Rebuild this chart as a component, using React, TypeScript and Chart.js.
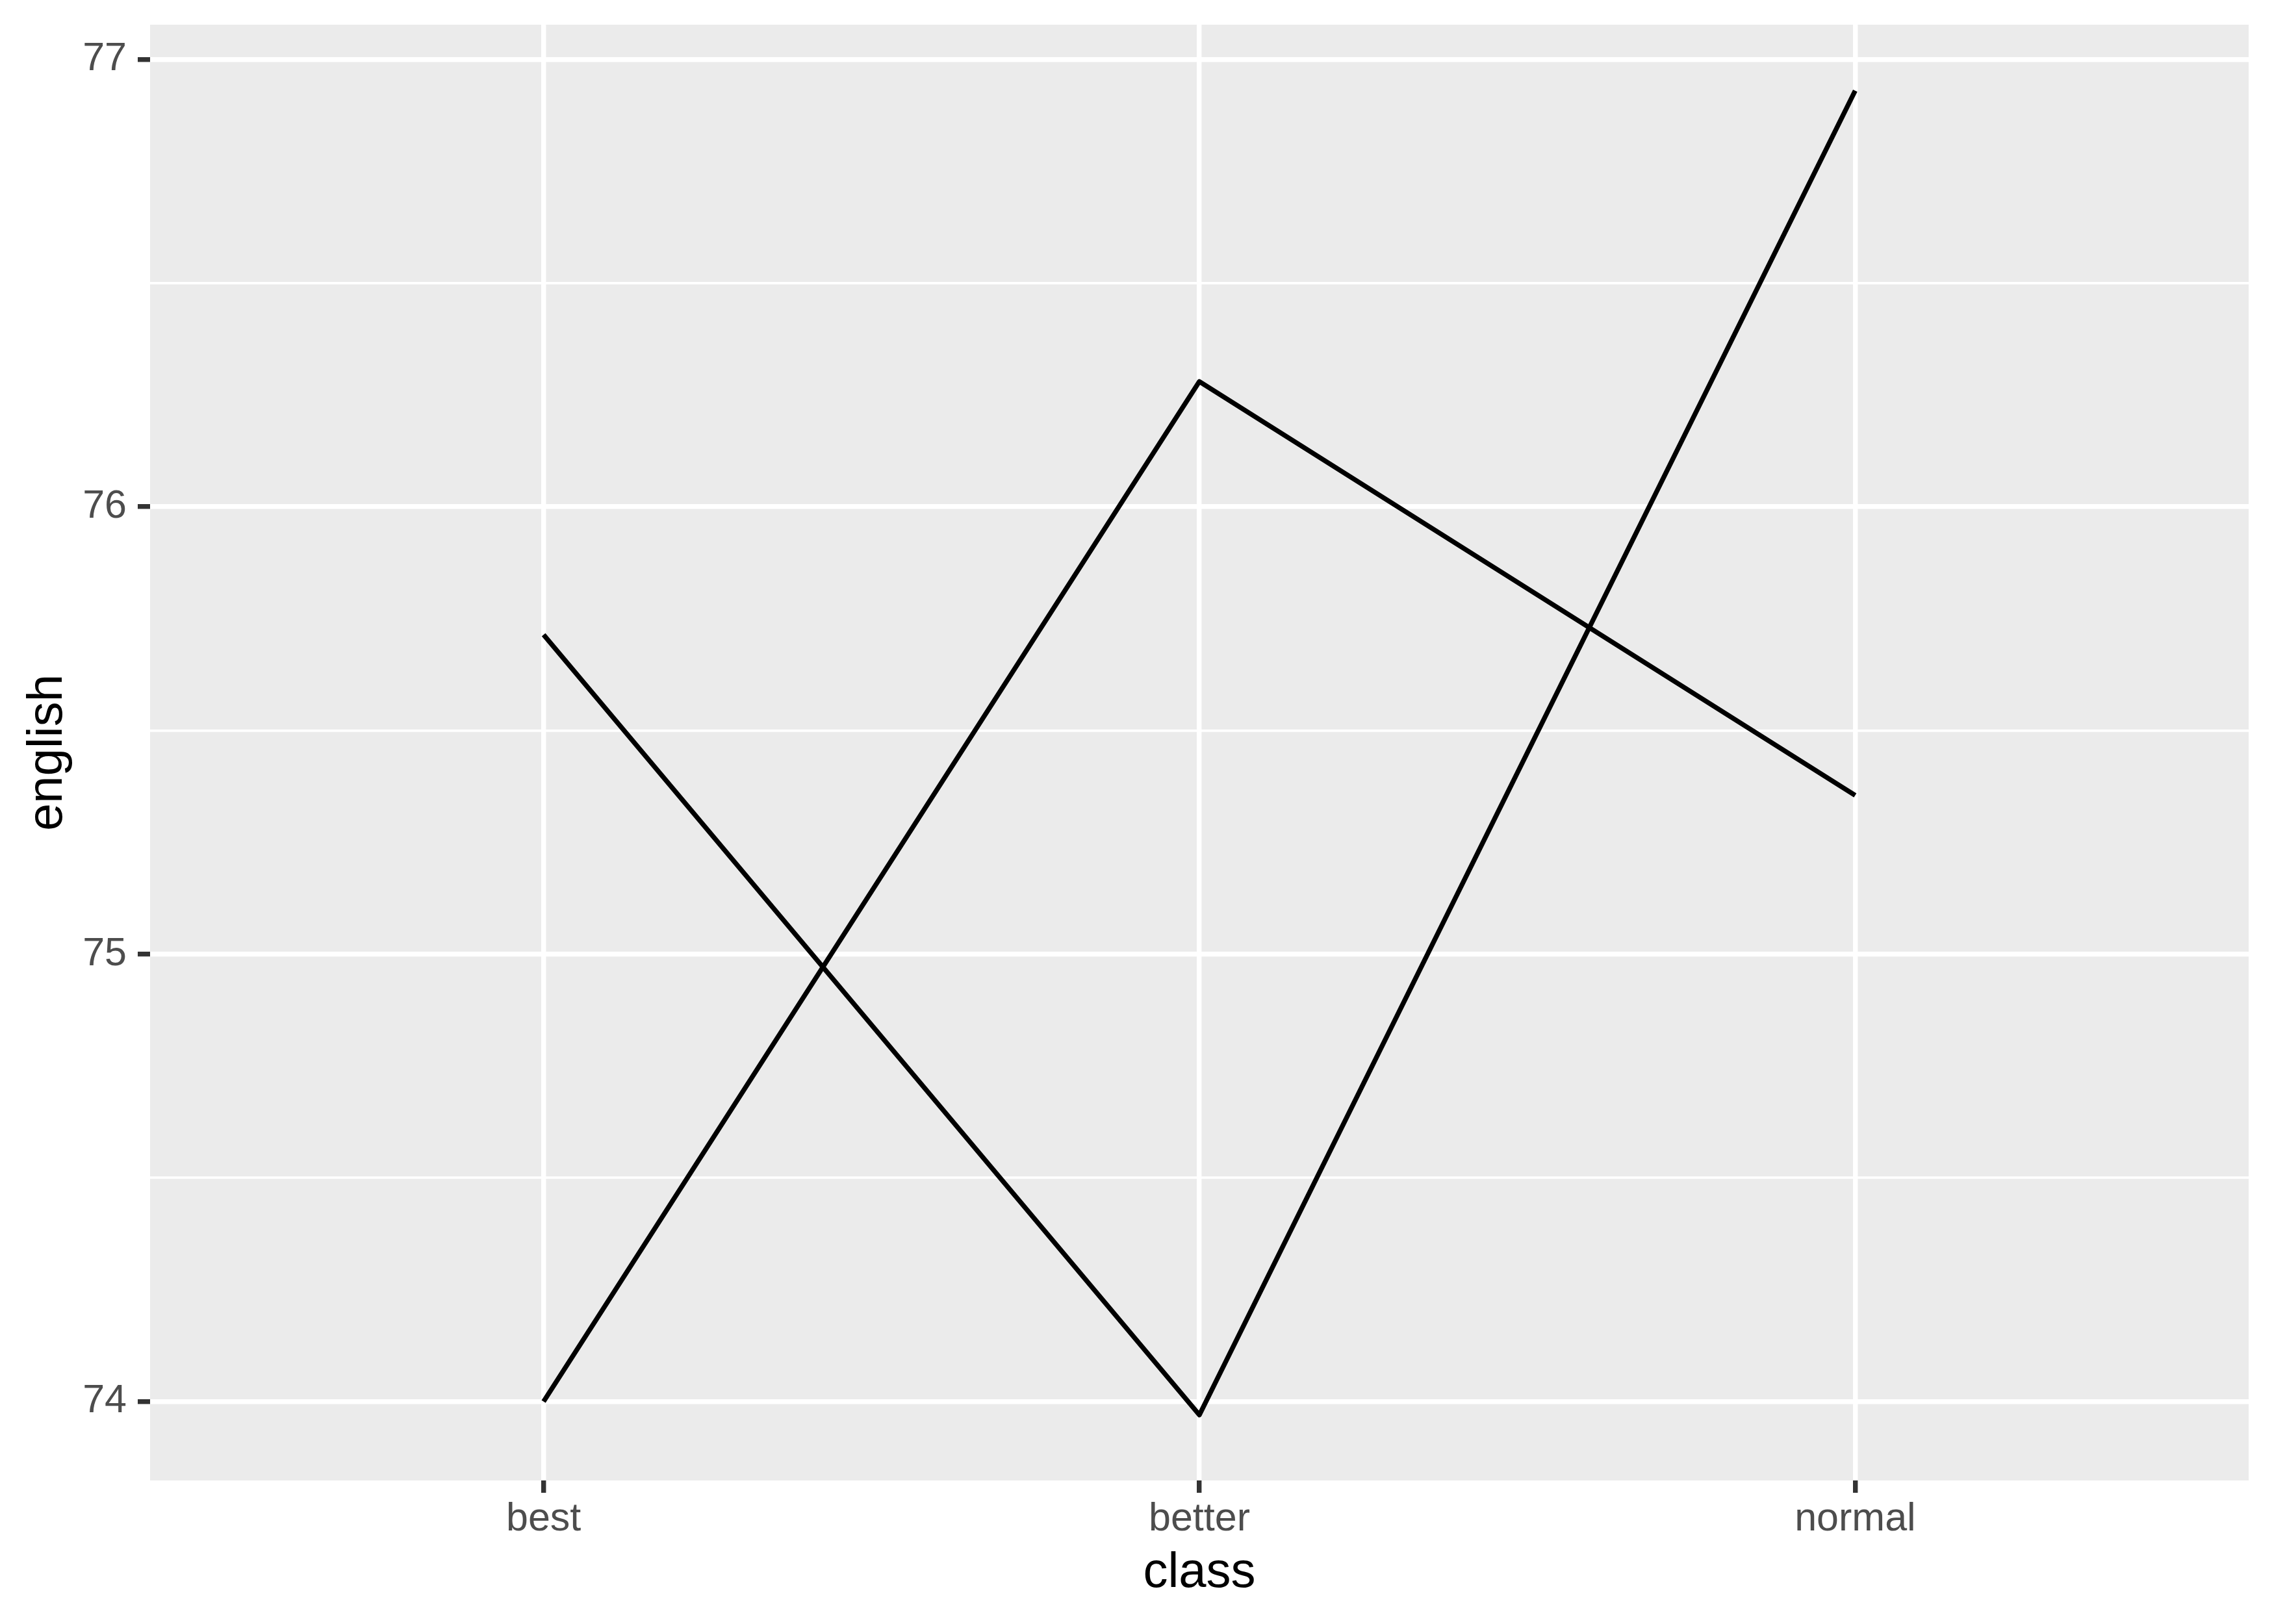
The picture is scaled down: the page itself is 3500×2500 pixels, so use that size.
import React, { useEffect, useRef } from "react";
import { Chart, registerables } from "chart.js";

Chart.register(...registerables);

// ---- data ----
const CLASSES = ["best", "better", "normal"];
const SERIES_A = [75.714, 73.97, 76.93];
const SERIES_B = [74.0, 76.28, 75.355];
const Y_MAJOR = [74, 75, 76, 77];
const Y_MINOR = [74.5, 75.5, 76.5];
const Y_MIN = 73.8236;
const Y_MAX = 77.0777;
const X_TITLE = "class";
const Y_TITLE = "english";

const W = 3500;
const H = 2500;
const FONT = "'Liberation Sans', Arial, Helvetica, sans-serif";
const MAJOR_W = 7.4;
const MINOR_W = 3.7;

const isMajor = (v: number) => Y_MAJOR.some((m) => Math.abs(m - v) < 1e-9);

const panelBg = {
  id: "panelBg",
  beforeDraw(chart: any) {
    const { ctx, chartArea } = chart;
    ctx.save();
    ctx.fillStyle = "#FFFFFF";
    ctx.fillRect(0, 0, chart.width, chart.height);
    ctx.fillStyle = "#EBEBEB";
    ctx.fillRect(
      chartArea.left,
      chartArea.top,
      chartArea.right - chartArea.left,
      chartArea.bottom - chartArea.top
    );
    ctx.restore();
  },
};

export default function App() {
  const ref = useRef<HTMLCanvasElement | null>(null);

  useEffect(() => {
    if (!ref.current) return;
    const toPts = (arr: number[]) => arr.map((y, i) => ({ x: i, y }));
    const chart = new Chart(ref.current, {
      type: "line",
      data: {
        datasets: [
          {
            data: toPts(SERIES_A),
            borderColor: "#000000",
            borderWidth: MAJOR_W,
            pointRadius: 0,
            borderJoinStyle: "round",
            borderCapStyle: "butt",
            tension: 0,
          },
          {
            data: toPts(SERIES_B),
            borderColor: "#000000",
            borderWidth: MAJOR_W,
            pointRadius: 0,
            borderJoinStyle: "round",
            borderCapStyle: "butt",
            tension: 0,
          },
        ],
      } as any,
      options: {
        animation: false,
        responsive: false,
        devicePixelRatio: 1,
        layout: { padding: { left: 0, top: 38, right: 39, bottom: 0 } },
        plugins: { legend: { display: false }, tooltip: { enabled: false } },
        scales: {
          x: {
            type: "linear",
            min: -0.6,
            max: CLASSES.length - 1 + 0.6,
            afterBuildTicks: (scale: any) => {
              scale.ticks = CLASSES.map((_, i) => ({ value: i }));
            },
            afterFit: (scale: any) => {
              scale.height = 221;
              scale.paddingLeft = 0;
              scale.paddingRight = 0;
            },
            border: { display: false },
            grid: {
              color: "#FFFFFF",
              lineWidth: MAJOR_W,
              drawTicks: true,
              tickLength: 19,
              tickColor: "#333333",
              tickWidth: MAJOR_W,
            },
            ticks: {
              autoSkip: false,
              maxRotation: 0,
              padding: 5,
              color: "#4D4D4D",
              font: { family: FONT, size: 61 },
              callback: (v: any) => CLASSES[Math.round(Number(v))] ?? "",
            },
            title: {
              display: true,
              text: X_TITLE,
              color: "#000000",
              font: { family: FONT, size: 76 },
              padding: { top: 0, bottom: 32 },
            },
          },
          y: {
            type: "linear",
            min: Y_MIN,
            max: Y_MAX,
            afterBuildTicks: (scale: any) => {
              scale.ticks = [...Y_MAJOR, ...Y_MINOR]
                .sort((a, b) => a - b)
                .map((v) => ({ value: v }));
            },
            afterFit: (scale: any) => {
              scale.width = 231;
              scale.paddingTop = 0;
              scale.paddingBottom = 0;
            },
            border: { display: false },
            grid: {
              color: "#FFFFFF",
              lineWidth: (ctx: any) =>
                ctx.tick && isMajor(ctx.tick.value) ? MAJOR_W : MINOR_W,
              drawTicks: true,
              tickLength: 19,
              tickColor: (ctx: any) =>
                ctx.tick && isMajor(ctx.tick.value) ? "#333333" : "rgba(0,0,0,0)",
              tickWidth: MAJOR_W,
            },
            ticks: {
              autoSkip: false,
              padding: 17,
              color: "#4D4D4D",
              font: { family: FONT, size: 61 },
              callback: (v: any) => (isMajor(Number(v)) ? String(Number(v)) : ""),
            },
            title: {
              display: true,
              text: Y_TITLE,
              color: "#000000",
              font: { family: FONT, size: 76 },
              padding: { top: 28, bottom: 0 },
            },
          },
        },
      } as any,
      plugins: [panelBg],
    });
    return () => chart.destroy();
  }, []);

  return (
    <div style={{ position: "absolute", left: 0, top: 0, width: W, height: H, background: "#FFFFFF" }}>
      <canvas ref={ref} width={W} height={H} style={{ width: W, height: H, display: "block" }} />
    </div>
  );
}
